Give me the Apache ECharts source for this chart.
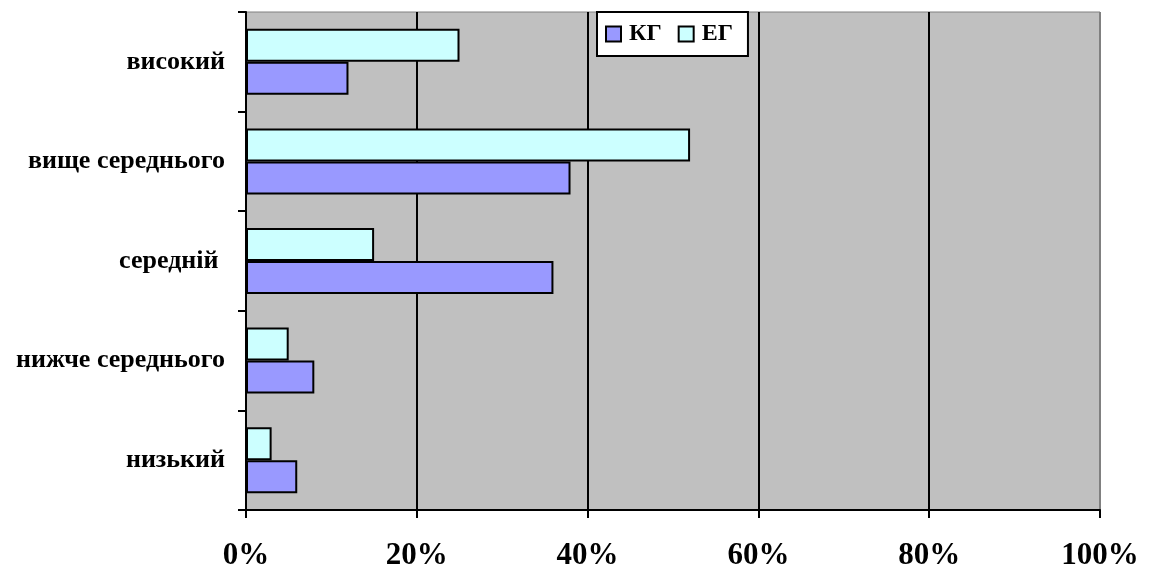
<!DOCTYPE html>
<html>
<head>
<meta charset="utf-8">
<script src="https://cdn.jsdelivr.net/npm/echarts@6/dist/echarts.min.js"></script>
<style>
html,body{margin:0;padding:0;background:#fff;}
#chart{width:1155px;height:572px;}
</style>
</head>
<body>
<div id="chart"></div>
<script>
// Categories listed bottom to top
const categories = ['низький', 'нижче середнього', 'середній ', 'вище середнього', 'високий'];
const seriesNames = ['КГ', 'ЕГ'];
const kgValues = [6, 8, 36, 38, 12];
const egValues = [3, 5, 15, 52, 25];
const xTicks = [0, 20, 40, 60, 80, 100];

const font = '"Liberation Serif", "Times New Roman", serif';
const chart = echarts.init(document.getElementById('chart'));
chart.setOption({
  animation: false,
  backgroundColor: '#fff',
  grid: {
    left: 246, right: 55, top: 12, bottom: 62,
    show: true, backgroundColor: '#C0C0C0', borderColor: '#808080', borderWidth: 1
  },
  legend: {
    data: seriesNames,
    left: 597, top: 12,
    backgroundColor: '#fff',
    borderColor: '#000', borderWidth: 2,
    padding: [10, 15, 10, 8],
    itemWidth: 15, itemHeight: 15, itemGap: 16,
    icon: 'rect',
    textStyle: { fontFamily: font, fontWeight: 'bold', fontSize: 24, color: '#000', padding: [0, 0, 0, 3] }
  },
  xAxis: {
    type: 'value',
    min: xTicks[0], max: xTicks[xTicks.length - 1], interval: 20,
    axisLine: { show: true, lineStyle: { color: '#000', width: 2 } },
    axisTick: { show: true, length: 8, lineStyle: { color: '#000', width: 2 } },
    axisLabel: { formatter: '{value}%', fontFamily: font, fontWeight: 'bold', fontSize: 31, color: '#000', margin: 30 },
    splitLine: { show: true, lineStyle: { color: ['#000', '#000', '#000', '#000', '#000', '#808080'], width: 2 } }
  },
  yAxis: {
    type: 'category',
    data: categories,
    axisLine: { show: true, lineStyle: { color: '#000', width: 2 } },
    axisTick: { show: true, length: 8, lineStyle: { color: '#000', width: 2 } },
    axisLabel: { fontFamily: font, fontWeight: 'bold', fontSize: 26, color: '#000', margin: 21 }
  },
  series: [
    {
      name: seriesNames[1], type: 'bar', data: egValues,
      barWidth: 33, barGap: '0%',
      itemStyle: { color: '#CCFFFF', borderColor: '#000', borderWidth: 2 }
    },
    {
      name: seriesNames[0], type: 'bar', data: kgValues,
      barWidth: 33, barGap: '0%',
      itemStyle: { color: '#9999FF', borderColor: '#000', borderWidth: 2 }
    }
  ]
});
</script>
</body>
</html>
